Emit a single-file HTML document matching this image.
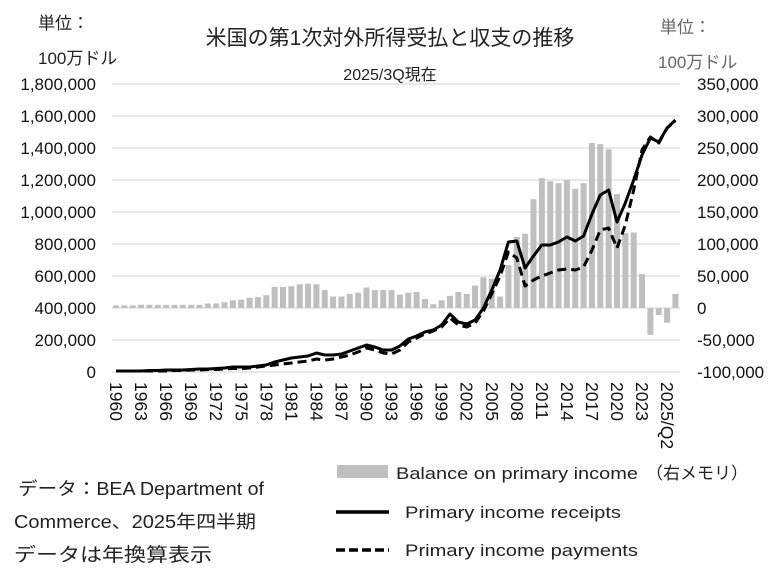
<!DOCTYPE html>
<html><head><meta charset="utf-8"><style>
html,body{margin:0;padding:0;background:#fff;}
svg{display:block;font-family:"Liberation Sans","Noto Sans CJK JP",sans-serif;}
</style></head><body>
<svg id="s" width="782" height="577" viewBox="0 0 782 577" xmlns="http://www.w3.org/2000/svg">
<text x="390" y="45" font-size="21" text-anchor="middle" fill="#222">米国の第1次対外所得受払と収支の推移</text>
<text x="390" y="80" font-size="16" text-anchor="middle" fill="#222">2025/3Q現在</text>
<text x="38" y="29" font-size="17" fill="#222">単位：</text>
<text x="38" y="64" font-size="17" fill="#222">100万ドル</text>
<text x="660" y="33" font-size="17" fill="#666">単位：</text>
<text x="658" y="68" font-size="17" fill="#666">100万ドル</text>
<g id="grid" stroke="#d9d9d9" stroke-width="1.3"></g>
<g id="bars" fill="#bfbfbf"></g>
<g id="lines" fill="none" stroke="#000" stroke-width="3" stroke-linejoin="round"></g>
<g id="ylab" font-size="17" fill="#111"></g>
<g id="xlab" font-size="17.5" fill="#111"></g>
<text x="18" y="495" font-size="18" fill="#222" textLength="246" lengthAdjust="spacingAndGlyphs">データ：BEA Department of</text>
<text x="14" y="528" font-size="18" fill="#222" textLength="242" lengthAdjust="spacingAndGlyphs">Commerce、2025年四半期</text>
<text x="14" y="561" font-size="19" fill="#222" textLength="198" lengthAdjust="spacingAndGlyphs">データは年換算表示</text>
<rect x="337" y="465" width="51" height="13" fill="#bfbfbf"/>
<text x="396" y="479" font-size="17" fill="#222" textLength="242" lengthAdjust="spacingAndGlyphs">Balance on primary income</text>
<text x="646" y="479" font-size="17" fill="#222">（右メモリ）</text>
<line x1="336" y1="512" x2="389" y2="512" stroke="#000" stroke-width="3.5"/>
<text x="405" y="518" font-size="17" fill="#222" textLength="216" lengthAdjust="spacingAndGlyphs">Primary income receipts</text>
<line x1="336" y1="550" x2="389" y2="550" stroke="#000" stroke-width="3.5" stroke-dasharray="9,4"/>
<text x="405" y="556" font-size="17" fill="#222" textLength="233" lengthAdjust="spacingAndGlyphs">Primary income payments</text>
</svg>
<script>
var NS="http://www.w3.org/2000/svg";
function el(p,t,a,txt){var e=document.createElementNS(NS,t);for(var k in a)e.setAttribute(k,a[k]);if(txt!==undefined)e.textContent=txt;document.getElementById(p).appendChild(e);return e;}
for(var i=0;i<10;i++){var y=84+i*32;el("grid","line",{x1:112,x2:680,y1:y,y2:y});
 var lv=(1800000-i*200000);el("ylab","text",{x:96,y:y+6,"text-anchor":"end"},lv===0?"0":lv.toLocaleString("en-US"));
 var rv=350000-i*50000;el("ylab","text",{x:697,y:y+6},rv===0?"0":(rv<0?"-":"")+Math.abs(rv).toLocaleString("en-US"));}
function X(i){return 116+i*8.35;}
var bars=[4,4,4,5,5,5,5,5,5,5,5,7,7,9,12,13,16,17,20,33,33,34,37,38,37,28,18,18,22,24,32,28,28,28,21,24,25,14,6,12,19,25,22,35,48,46,18,67,111,116,170,203,198,195,200,186,195,258,256,248,178,117,118,53,-42,-11,-23,22];
for(var i=0;i<bars.length;i++){var v=bars[i]*0.64;var y=v>=0?308-v:308;el("bars","rect",{x:X(i)-3,y:y,width:6,height:Math.abs(v)});}
var rec=[371,371,371,371,370.5,370.5,370,370,370,369.5,369,369,368.5,368,367,367,367,366,365,362,360,358,357,356,353,355,355,354,351,348,345,347,350,350,346,339,336,332,330,325,314,322,324,320,308,290,270,242,241,268,256,245,245,242,237,241,236,214,195,190,222,203,180,155,138,142,128,120];
var pay=[371,371,371,371,371,371,371,370.5,370.5,370,370,369.5,369.5,369,368.5,368.5,368,367,366,365,364,363,362,361,359,360,359,357,355,352,348,350,353,354,350,342,338,334,331,327,318,325,327,323,311,294,276,252,258,286,280,276,273,270,269,270,267,250,230,228,248,225,190,150,137,143,128,121];
function pts(a){return a.map(function(v,i){return X(i).toFixed(1)+","+v;}).join(" ");}
el("lines","polyline",{points:pts(pay),"stroke-dasharray":"9,5"});
el("lines","polyline",{points:pts(rec)});
for(var i=0;i<=63;i+=3){var x=X(i)-6;el("xlab","text",{x:0,y:0,transform:"translate("+x+",382) rotate(90)"},String(1960+i));}
el("xlab","text",{x:0,y:0,transform:"translate("+(X(66)-6)+",382) rotate(90)"},"2025/Q2");
</script>
</body></html>
